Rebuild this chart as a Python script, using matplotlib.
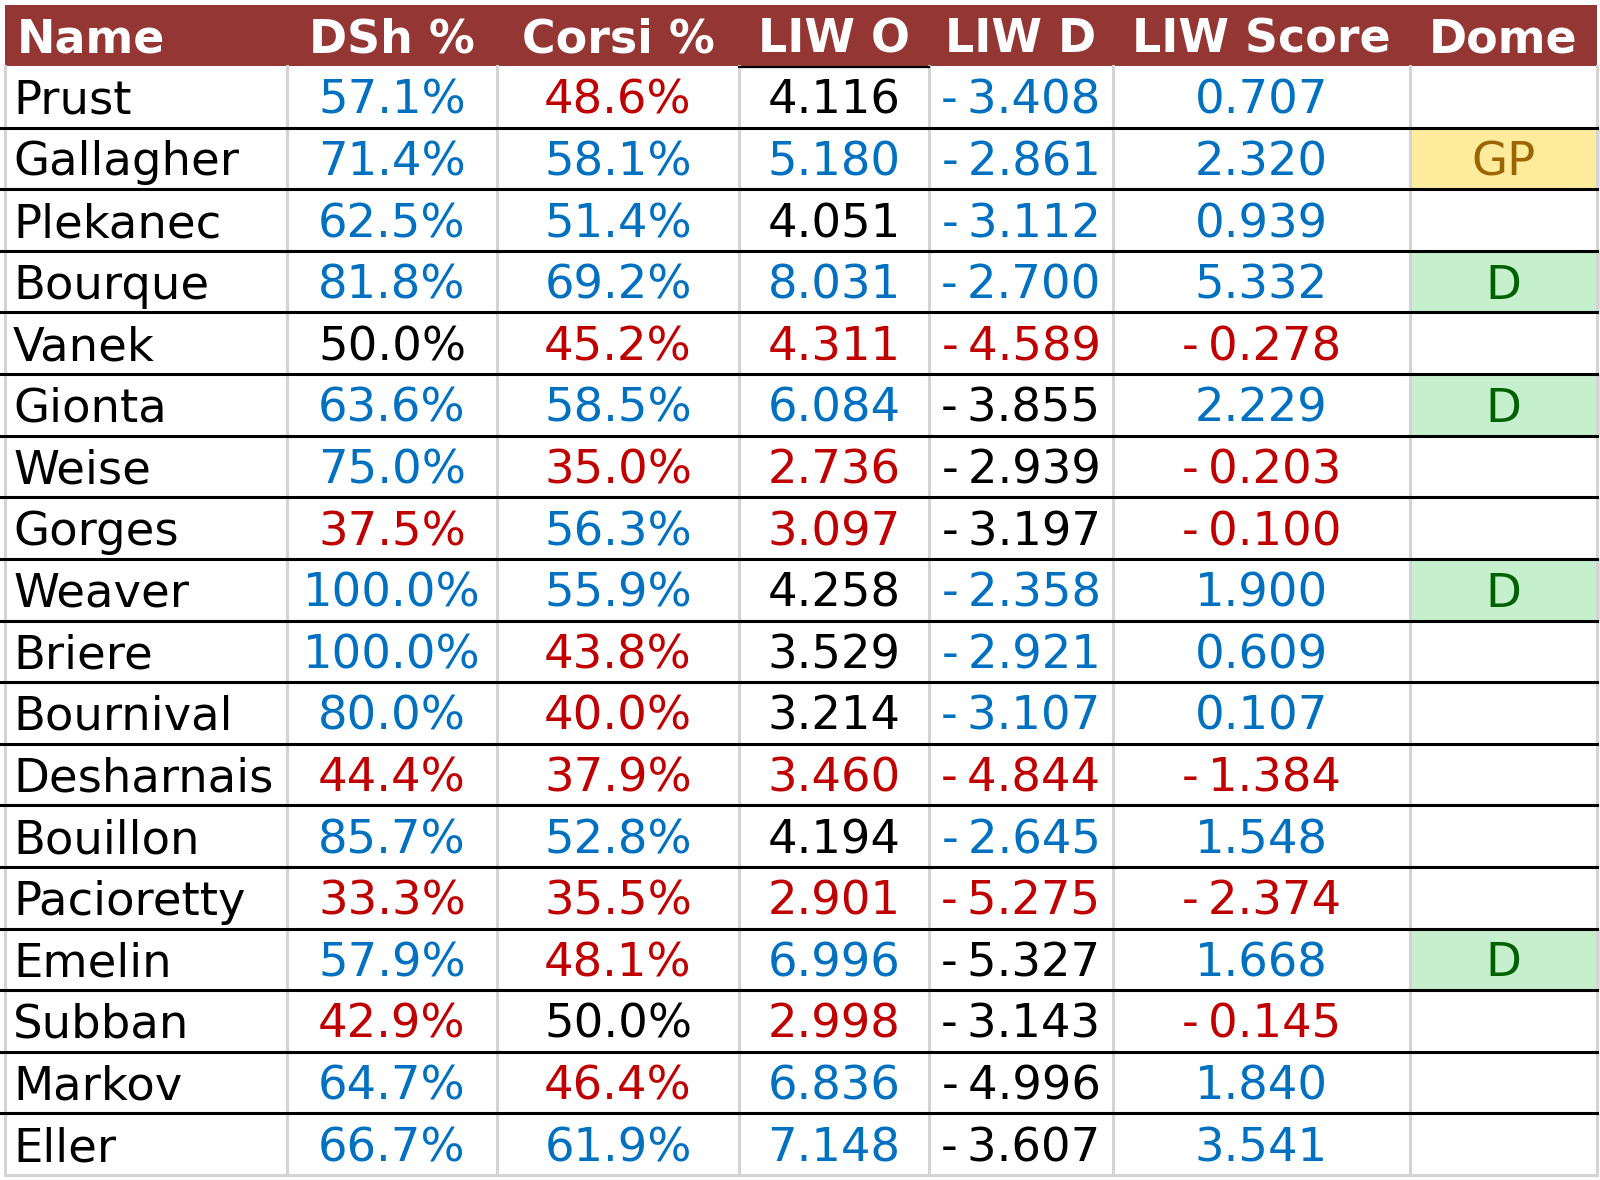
import matplotlib.pyplot as plt
from matplotlib.patches import Rectangle

# table data
columns = ["Name", "DSh %", "Corsi %", "LIW O", "LIW D", "LIW Score", "Dome"]
names = ["Prust", "Gallagher", "Plekanec", "Bourque", "Vanek", "Gionta", "Weise",
         "Gorges", "Weaver", "Briere", "Bournival", "Desharnais", "Bouillon",
         "Pacioretty", "Emelin", "Subban", "Markov", "Eller"]
dsh = [57.1, 71.4, 62.5, 81.8, 50.0, 63.6, 75.0, 37.5, 100.0, 100.0, 80.0, 44.4,
       85.7, 33.3, 57.9, 42.9, 64.7, 66.7]
corsi = [48.6, 58.1, 51.4, 69.2, 45.2, 58.5, 35.0, 56.3, 55.9, 43.8, 40.0, 37.9,
         52.8, 35.5, 48.1, 50.0, 46.4, 61.9]
liw_o = [4.116, 5.180, 4.051, 8.031, 4.311, 6.084, 2.736, 3.097, 4.258, 3.529,
         3.214, 3.460, 4.194, 2.901, 6.996, 2.998, 6.836, 7.148]
liw_d = [-3.408, -2.861, -3.112, -2.700, -4.589, -3.855, -2.939, -3.197, -2.358,
         -2.921, -3.107, -4.844, -2.645, -5.275, -5.327, -3.143, -4.996, -3.607]
liw_score = [0.707, 2.320, 0.939, 5.332, -0.278, 2.229, -0.203, -0.100, 1.900,
             0.609, 0.107, -1.384, 1.548, -2.374, 1.668, -0.145, 1.840, 3.541]
dome = ["", "GP", "", "D", "", "D", "", "", "D", "", "", "", "", "", "D", "", "", ""]
# conditional formatting flags for LIW O / LIW D (+ good, - bad, 0 neutral)
liw_o_flag = "0+0+-+--000-0-+-++"
liw_d_flag = "++++-000+++-+-0000"

BLUE = "#0070c0"
RED = "#c00000"
BLACK = "#000000"
FLAG_COL = {"+": BLUE, "-": RED, "0": BLACK}
DOME_STYLE = {"GP": ("#ffeb9c", "#9c6500"), "D": ("#c6efce", "#006100")}


def pct_color(v):
    if v > 50:
        return BLUE
    if v < 50:
        return RED
    return BLACK


def sign_color(v):
    return BLUE if v > 0 else RED if v < 0 else BLACK


def fmt3(v):
    s = f"{v:.3f}"
    return s.replace("-", "-\u2009") if v < 0 else s


fig = plt.figure(figsize=(16, 11.8), dpi=100)
ax = fig.add_axes([0, 0, 1, 1])
ax.set_xlim(0, 1600)
ax.set_ylim(1180, 0)
ax.axis("off")

col_x = [5, 287, 497, 739, 929, 1113, 1410, 1597]
top, head_bot, bottom = 5, 66, 1175
n = len(names)
row_h = (bottom - head_bot) / n
FS = 33.5
HFS = 33
OFF = 17  # baseline offset from row middle

# header
ax.add_patch(Rectangle((col_x[0], top), col_x[-1] - col_x[0], head_bot - top,
                       facecolor="#943634", edgecolor="none"))
hmid = (top + head_bot) / 2
for j, c in enumerate(columns):
    if j == 0:
        ax.text(col_x[0] + 12, hmid + OFF, c, color="white", fontsize=HFS,
                fontweight="bold", ha="left", va="baseline")
    else:
        ax.text((col_x[j] + col_x[j + 1]) / 2, hmid + OFF, c, color="white",
                fontsize=HFS, fontweight="bold", ha="center", va="baseline")

# dome fills
for i, d in enumerate(dome):
    if d:
        y0 = head_bot + i * row_h
        ax.add_patch(Rectangle((col_x[6], y0), col_x[7] - col_x[6] + 3, row_h,
                               facecolor=DOME_STYLE[d][0], edgecolor="none"))

# grey vertical cell borders
for x in col_x:
    ax.plot([x, x], [head_bot, bottom], color="#d4d4d4", lw=2.2, zorder=1)
ax.plot([col_x[0], col_x[-1]], [bottom, bottom], color="#d4d4d4", lw=2.2)

# black row separators
for i in range(1, n):
    y = head_bot + i * row_h
    ax.plot([1, col_x[-1]], [y, y], color="black", lw=2.2, zorder=2)
ax.plot([col_x[3], col_x[4]], [head_bot + 1, head_bot + 1], color="black", lw=1.6, zorder=2)

for i in range(n):
    ymid = head_bot + (i + 0.5) * row_h + OFF
    cx = [(col_x[j] + col_x[j + 1]) / 2 for j in range(len(columns))]
    ax.text(col_x[0] + 8, ymid, names[i], fontsize=FS, color=BLACK,
            ha="left", va="baseline")
    cells = [
        (f"{dsh[i]:.1f}%", pct_color(dsh[i])),
        (f"{corsi[i]:.1f}%", pct_color(corsi[i])),
        (fmt3(liw_o[i]), FLAG_COL[liw_o_flag[i]]),
        (fmt3(liw_d[i]), FLAG_COL[liw_d_flag[i]]),
        (fmt3(liw_score[i]), sign_color(liw_score[i])),
    ]
    for j, (txt, col) in enumerate(cells, start=1):
        ax.text(cx[j], ymid, txt, fontsize=FS, color=col, ha="center", va="baseline")
    if dome[i]:
        ax.text(cx[6], ymid, dome[i], fontsize=FS, color=DOME_STYLE[dome[i]][1],
                ha="center", va="baseline")

fig.savefig("out.png", dpi=100, facecolor="white")
